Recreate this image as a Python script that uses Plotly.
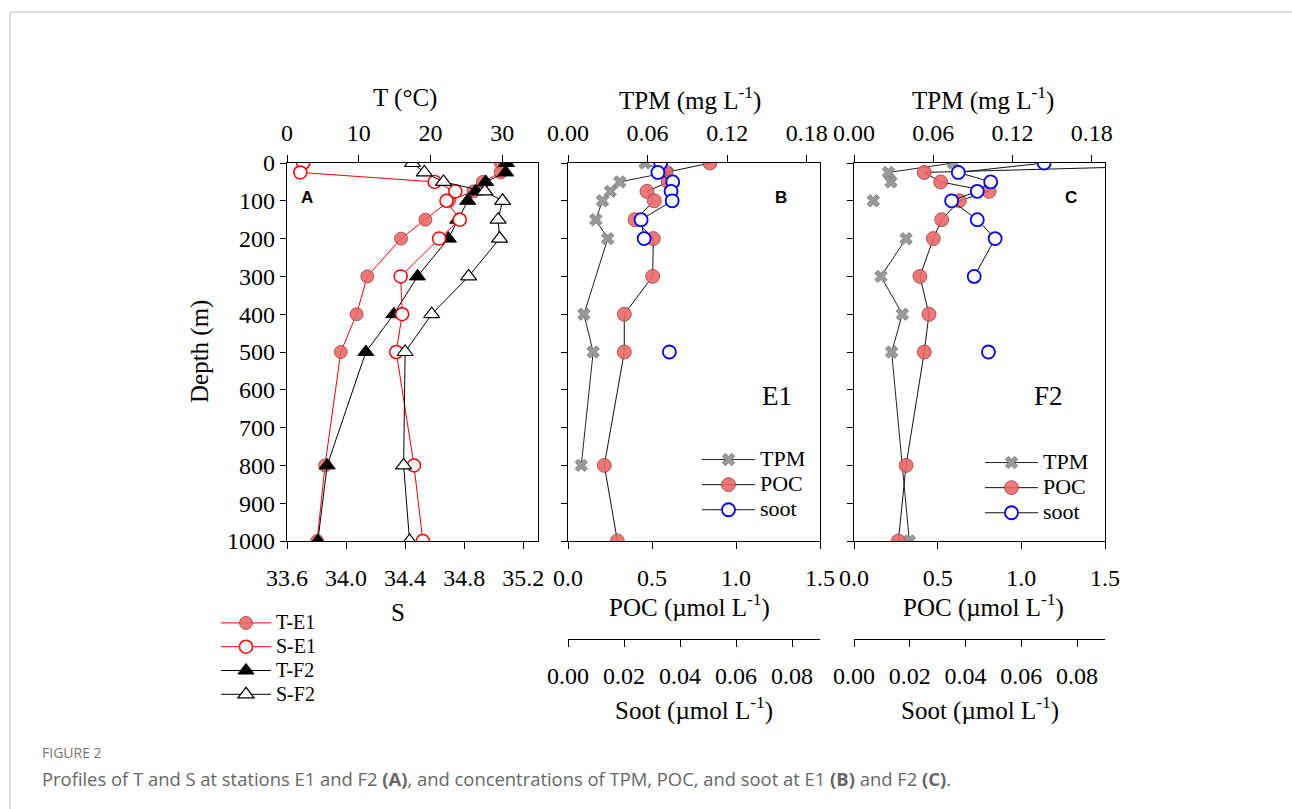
import plotly.graph_objects as go

W, H = 1292, 809

# ---------------- data ----------------
depth = [0, 25, 50, 75, 100, 150, 200, 300, 400, 500, 800, 1000]
T_E1 = [29.8, 29.8, 27.3, 26.0, 22.6, 19.3, 15.9, 11.2, 9.7, 7.5, 5.3, 4.2]
S_E1 = [33.71, 33.69, 34.60, 34.74, 34.68, 34.77, 34.63, 34.37, 34.38, 34.34, 34.46, 34.52]
T_F2 = [30.6, 30.5, 27.7, 26.3, 25.2, 23.8, 22.5, 18.2, 14.9, 11.0, 5.6, 4.3]
S_F2 = [34.45, 34.53, 34.66, 34.94, 35.06, 35.03, 35.04, 34.83, 34.58, 34.40, 34.39, 34.43]

tpm_E1_depth = [0, 25, 50, 75, 100, 150, 200, 400, 500, 800]
tpm_E1 = [0.058, 0.075, 0.039, 0.032, 0.026, 0.021, 0.030, 0.012, 0.019, 0.010]
poc_E1 = [0.845, 0.583, 0.597, 0.470, 0.514, 0.399, 0.508, 0.504, 0.335, 0.335, 0.216, 0.294]
soot_depth = [0, 25, 50, 75, 100, 150, 200, 300, 400, 500]
soot_E1 = [0.0331, 0.0321, 0.0374, 0.0368, 0.0372, 0.0261, 0.0272, None, None, 0.0362]

tpm_F2_depth = [0, 25, 50, 75, 100, 150, 200, 300, 400, 500, 1000]
tpm_F2 = [0.0752, 0.026, 0.028, None, 0.0146, None, 0.0394, 0.0204, 0.0366, 0.0285, 0.0419]
poc_F2 = [2.5, 0.420, 0.518, 0.807, 0.629, 0.524, 0.474, 0.394, 0.448, 0.420, 0.311, 0.265]
soot_F2 = [0.0682, 0.0374, 0.0490, 0.0442, 0.0350, 0.0442, 0.0506, 0.0431, None, 0.0482]

T_ticks = [0, 10, 20, 30]
S_ticks = [33.6, 34.0, 34.4, 34.8, 35.2]
tpm_ticks = [0.00, 0.06, 0.12, 0.18]
poc_ticks = [0.0, 0.5, 1.0, 1.5]
soot_ticks = [0.00, 0.02, 0.04, 0.06, 0.08]
depth_ticks = list(range(0, 1001, 100))

# ---------------- styles ----------------
SERIF = "Liberation Serif, Times New Roman, serif"
RED = "#ff0000"
POC_FILL = "rgba(238,100,100,0.88)"
POC_EDGE = "rgba(150,70,70,0.8)"
TICKF = dict(family=SERIF, size=24, color="black")


def px(x):
    return x / W


def py(y):
    return 1 - y / H


def big(name, size):
    return f'<span style="font-size:{size}px">{name}</span>'


fig = go.Figure()

# ---- panel A ----
LA = 20
fig.add_trace(go.Scatter(x=T_E1, y=depth, xaxis="x", yaxis="y", name=big("T-E1", LA), legend="legend",
                         mode="lines+markers", line=dict(color=RED, width=1),
                         marker=dict(symbol="circle", size=13, color=POC_FILL, line=dict(color=POC_EDGE, width=1))))
fig.add_trace(go.Scatter(x=S_E1, y=depth, xaxis="x2", yaxis="y", name=big("S-E1", LA), legend="legend",
                         mode="lines+markers", line=dict(color=RED, width=1),
                         marker=dict(symbol="circle", size=13, color="white", line=dict(color=RED, width=1.5))))
fig.add_trace(go.Scatter(x=T_F2, y=depth, xaxis="x", yaxis="y", name=big("T-F2", LA), legend="legend",
                         mode="lines+markers", line=dict(color="black", width=1),
                         marker=dict(symbol="triangle-up", size=14, color="black", line=dict(color="black", width=1))))
fig.add_trace(go.Scatter(x=S_F2, y=depth, xaxis="x2", yaxis="y", name=big("S-F2", LA), legend="legend",
                         mode="lines+markers", line=dict(color="black", width=1),
                         marker=dict(symbol="triangle-up", size=14, color="white", line=dict(color="black", width=1.2))))

LB = 22


def add_panel(tpm_d, tpm, poc, soot, xt, xp, xs, ya, leg):
    fig.add_trace(go.Scatter(x=tpm, y=tpm_d, xaxis=xt, yaxis=ya, name=big("TPM", LB), legend=leg,
                             mode="lines+markers", line=dict(color="#222", width=1),
                             marker=dict(symbol="x", size=11, color="#999", line=dict(color="#777", width=0.8))))
    fig.add_trace(go.Scatter(x=poc, y=depth, xaxis=xp, yaxis=ya, name=big("POC", LB), legend=leg,
                             mode="lines+markers", line=dict(color="#111", width=1),
                             marker=dict(symbol="circle", size=14, color=POC_FILL, line=dict(color=POC_EDGE, width=1))))
    fig.add_trace(go.Scatter(x=soot, y=soot_depth, xaxis=xs, yaxis=ya, name=big("soot", LB), legend=leg,
                             mode="lines+markers", line=dict(color="#111", width=1),
                             marker=dict(symbol="circle", size=13, color="white", line=dict(color="#0000ff", width=1.8))))


add_panel(tpm_E1_depth, tpm_E1, poc_E1, soot_E1, "x3", "x4", "x5", "y2", "legend2")
add_panel(tpm_F2_depth, tpm_F2, poc_F2, soot_F2, "x6", "x7", "x8", "y3", "legend3")

# ---------------- axes ----------------
ydom = [py(541), py(163)]
domA = [px(287), px(538)]
domB = [px(568), px(820)]
domC = [px(854), px(1105)]

axbase = dict(showgrid=False, zeroline=False, showline=True, linecolor="black", linewidth=1.2,
              ticks="outside", ticklen=7, tickcolor="black", tickwidth=1.2, tickfont=TICKF)


def xax(dom, rng, tickvals, fmt, side, anchor, overlaying=None, position=None):
    d = dict(axbase)
    d.update(domain=dom, range=rng, tickvals=tickvals, tickformat=fmt, side=side, anchor=anchor,
             ticklabelstandoff=4 if side == "top" else 8)
    if overlaying:
        d["overlaying"] = overlaying
        d.pop("domain")
    if position is not None:
        d["position"] = position
    return d


def yax(anchor, labels):
    d = dict(axbase)
    d.update(domain=ydom, range=[1000, 0], tickvals=depth_ticks, anchor=anchor, mirror=True,
             showticklabels=labels, ticklen=6)
    return d


soot_pos = py(639)

fig.update_layout(
    xaxis=xax(domA, [0, 35], T_ticks, "d", "top", "y"),
    xaxis2=xax(domA, [33.6, 35.3], S_ticks, ".1f", "bottom", "y", overlaying="x"),
    yaxis=yax("x", True),
    xaxis3=xax(domB, [0, 0.19], tpm_ticks, ".2f", "top", "y2"),
    xaxis4=xax(domB, [0, 1.5], poc_ticks, ".1f", "bottom", "y2", overlaying="x3"),
    xaxis5=xax(domB, [0, 0.09], soot_ticks, ".2f", "bottom", "free", overlaying="x3", position=soot_pos),
    yaxis2=yax("x3", False),
    xaxis6=xax(domC, [0, 0.19], tpm_ticks, ".2f", "top", "y3"),
    xaxis7=xax(domC, [0, 1.5], poc_ticks, ".1f", "bottom", "y3", overlaying="x6"),
    xaxis8=xax(domC, [0, 0.09], soot_ticks, ".2f", "bottom", "free", overlaying="x6", position=soot_pos),
    yaxis3=yax("x6", False),
)

fig.update_layout(
    width=W, height=H, margin=dict(l=0, r=0, t=0, b=0, autoexpand=False),
    paper_bgcolor="white", plot_bgcolor="white", showlegend=True,
    legend=dict(x=px(216), y=py(606), xanchor="left", yanchor="top",
                font=dict(family=SERIF, size=16, color="black"),
                bgcolor="rgba(0,0,0,0)", tracegroupgap=0, itemwidth=50),
    legend2=dict(x=px(697), y=py(442), xanchor="left", yanchor="top",
                 font=dict(family=SERIF, size=17, color="black"),
                 bgcolor="rgba(0,0,0,0)", itemwidth=53),
    legend3=dict(x=px(980), y=py(445), xanchor="left", yanchor="top",
                 font=dict(family=SERIF, size=17, color="black"),
                 bgcolor="rgba(0,0,0,0)", itemwidth=53),
)

# ---------------- text ----------------
TITLEF = dict(family=SERIF, size=25, color="black")
ann = [
    ("T (°C)", 405, 98, TITLEF, 0),
    ("TPM (mg L<sup>-1</sup>)", 690, 98, TITLEF, 0),
    ("TPM (mg L<sup>-1</sup>)", 983, 98, TITLEF, 0),
    ("S", 398, 612, TITLEF, 0),
    ("POC (µmol L<sup>-1</sup>)", 690, 605, TITLEF, 0),
    ("POC (µmol L<sup>-1</sup>)", 983, 605, TITLEF, 0),
    ("Soot (µmol L<sup>-1</sup>)", 694, 708, TITLEF, 0),
    ("Soot (µmol L<sup>-1</sup>)", 980, 708, TITLEF, 0),
    ("Depth (m)", 200, 352, TITLEF, -90),
    ("<b>A</b>", 307, 198, dict(family="Liberation Sans, Arial", size=17, color="black"), 0),
    ("<b>B</b>", 781, 198, dict(family="Liberation Sans, Arial", size=17, color="black"), 0),
    ("<b>C</b>", 1071, 198, dict(family="Liberation Sans, Arial", size=17, color="black"), 0),
    ("E1", 777, 396, dict(family=SERIF, size=27, color="black"), 0),
    ("F2", 1048, 396, dict(family=SERIF, size=27, color="black"), 0),
]
for text, x, y, f, ang in ann:
    fig.add_annotation(text=text, x=px(x), y=py(y), xref="paper", yref="paper", showarrow=False,
                       font=f, textangle=ang, xanchor="center", yanchor="middle")

fig.add_annotation(text="FIGURE 2", x=px(40), y=py(752), xref="paper", yref="paper", showarrow=False,
                   xanchor="left", yanchor="middle", font=dict(family="Open Sans, Noto Sans", size=14, color="#777"))
fig.add_annotation(text="Profiles of T and S at stations E1 and F2 <b>(A)</b>, and concentrations of TPM, POC, and soot at E1 <b>(B)</b> and F2 <b>(C)</b>.",
                   x=px(40), y=py(778), xref="paper", yref="paper", showarrow=False,
                   xanchor="left", yanchor="middle", font=dict(family="Open Sans, Noto Sans", size=18.4, color="#666"))

# card border
fig.add_shape(type="line", xref="paper", yref="paper", x0=px(10), x1=1, y0=py(12), y1=py(12),
              line=dict(color="#d0d0d0", width=1.5))
fig.add_shape(type="line", xref="paper", yref="paper", x0=px(10), x1=px(10), y0=py(12), y1=0,
              line=dict(color="#d0d0d0", width=1.5))

fig.write_html("out.html", config={"displayModeBar": False},
               post_script="document.body.style.margin='0px';")
